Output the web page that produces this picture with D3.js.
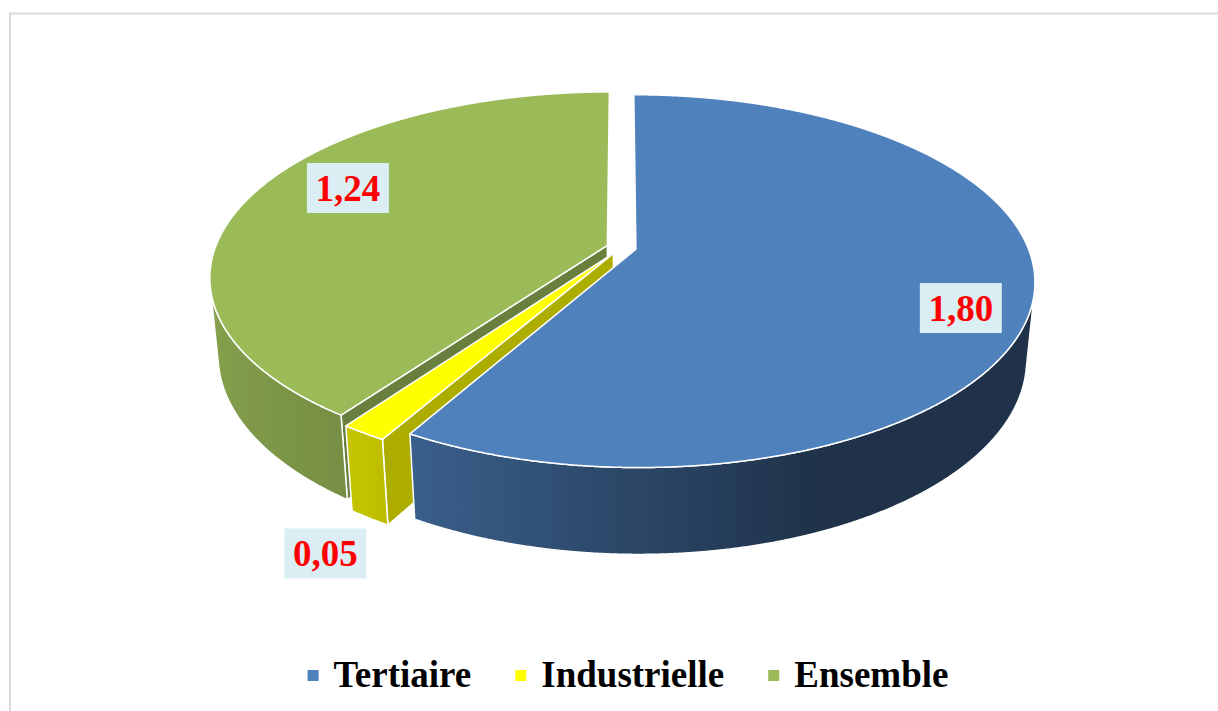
<!DOCTYPE html>
<html><head><meta charset="utf-8">
<script src="https://cdn.jsdelivr.net/npm/d3@7"></script>
<style>body{margin:0;background:#fff}svg{display:block}</style>
</head><body><svg id="chart" width="1218" height="711"></svg>
<script>
// ---- data ----
const categories = ["Tertiaire", "Industrielle", "Ensemble"];
const values = [1.80, 0.05, 1.24];
const valueLabels = ["1,80", "0,05", "1,24"];
const colors = ["#4F81BD", "#FFFF00", "#9BBB59"];

// ---- layout / style ----
const W = 1218, H = 711;
const cx = 621.5, cy = 247.5, F = 2038.5, Dist = 5.2, sinA = 0.46, cosA = 0.888;
const thick = 0.224, explode = 0.038;
const labelPlace = [{a: 111.2, r: 0.878}, {a: 204, r: 1.44}, {a: 295.3, r: 0.818}];
const fontFam = "'Liberation Serif','Times New Roman',serif";

const svg = d3.select("#chart");
const defs = svg.append("defs");

// frame
svg.append("path").attr("d", `M10,${H} V13.5 H${W}`).attr("fill", "none")
  .attr("stroke", "#d9d9d9").attr("stroke-width", 2);

const pieData = d3.pie().sort(null).value(d => d)(values);

function proj(p) {
  const [X, Y, Z] = p;
  const d = Dist - Y * sinA + Z * cosA;
  return [cx + F * X / d, cy - F * (Y * cosA + Z * sinA) / d, d];
}
const cam = [0, Dist * sinA, -Dist * cosA];
const deg = 180 / Math.PI;
const sideShade = d3.scaleLinear().domain([100, 158, 212, 262, 360]).range([0.39, 0.39, 0.76, 0.89, 0.9]).clamp(true);
function shade(hex, f) { const c = d3.rgb(hex); return d3.rgb(c.r * f, c.g * f, c.b * f).formatHex(); }
const line = pts => "M" + pts.map(p => { const q = proj(p); return q[0].toFixed(2) + "," + q[1].toFixed(2); }).join("L") + "Z";
const avgDepth = pts => d3.mean(pts, p => proj(p)[2]);

const faces = [], tops = [];
pieData.forEach((p, i) => {
  const a0 = p.startAngle, a1 = p.endAngle, mid = (a0 + a1) / 2;
  const ox = explode * Math.sin(mid), oz = explode * Math.cos(mid);
  const P = (r, a, Y) => [ox + r * Math.sin(a), Y, oz + r * Math.cos(a)];
  const n = Math.max(4, Math.ceil((a1 - a0) / (0.2 / deg)));
  const arcA = d3.range(n + 1).map(k => a0 + (a1 - a0) * k / n);
  tops.push({pts: [P(0, a0, 0), ...arcA.map(a => P(1, a, 0))], fill: colors[i]});

  // outer side: visible angles
  const visible = a => -1 - ox * Math.sin(a) - oz * Math.cos(a) - Dist * cosA * Math.cos(a) > 0;
  let runs = [], cur = [];
  arcA.forEach(a => { if (visible(a)) cur.push(a); else { if (cur.length > 1) runs.push(cur); cur = []; } });
  if (cur.length > 1) runs.push(cur);
  runs.forEach((run, ri) => {
    const pts = [...run.map(a => P(1, a, 0)), ...run.slice().reverse().map(a => P(1, a, -thick))];
    const gid = `side${i}_${ri}`;
    const xs = run.map(a => proj(P(1, a, 0))[0]);
    const x0 = d3.min(xs), x1 = d3.max(xs);
    const g = defs.append("linearGradient").attr("id", gid).attr("gradientUnits", "userSpaceOnUse")
      .attr("x1", x0).attr("x2", x1).attr("y1", 0).attr("y2", 0);
    const step = Math.max(1, Math.floor(run.length / 60));
    const stops = run.filter((a, k) => k % step === 0 || k === run.length - 1)
      .map(a => ({o: x1 > x0 ? (proj(P(1, a, 0))[0] - x0) / (x1 - x0) : 0, c: shade(colors[i], sideShade(a * deg))}))
      .sort((u, v) => u.o - v.o);
    stops.forEach(s => g.append("stop").attr("offset", s.o).attr("stop-color", s.c));
    faces.push({pts, fill: `url(#${gid})`, depth: avgDepth(pts)});
  });

  // cut faces
  const cuts = [
    {a: a0, nrm: [-Math.cos(a0), 0, Math.sin(a0)]},
    {a: a1, nrm: [Math.cos(a1), 0, -Math.sin(a1)]}
  ];
  cuts.forEach(c => {
    const pts = [P(0, c.a, 0), P(1, c.a, 0), P(1, c.a, -thick), P(0, c.a, -thick)];
    const cen = [d3.mean(pts, q => q[0]), d3.mean(pts, q => q[1]), d3.mean(pts, q => q[2])];
    const dot = c.nrm[0] * (cam[0] - cen[0]) + c.nrm[1] * (cam[1] - cen[1]) + c.nrm[2] * (cam[2] - cen[2]);
    if (dot > 0) faces.push({pts, fill: shade(colors[i], 0.68), depth: avgDepth(pts)});
  });
});

faces.sort((u, v) => v.depth - u.depth);
const gPie = svg.append("g");
gPie.selectAll("path.side").data(faces).join("path").attr("class", "side")
  .attr("d", d => line(d.pts)).attr("fill", d => d.fill)
  .attr("stroke", "#fff").attr("stroke-width", 1.5).attr("stroke-linejoin", "round");
gPie.selectAll("path.top").data(tops).join("path").attr("class", "top")
  .attr("d", d => line(d.pts)).attr("fill", d => d.fill)
  .attr("stroke", "#fff").attr("stroke-width", 1.5).attr("stroke-linejoin", "round");

// data labels
const gLab = svg.append("g");
valueLabels.forEach((t, i) => {
  const lp = labelPlace[i];
  const a = lp.a / deg;
  const q = proj([lp.r * Math.sin(a), 0, lp.r * Math.cos(a)]);
  gLab.append("rect").attr("x", q[0] - 41).attr("y", q[1] - 25).attr("width", 82).attr("height", 50).attr("fill", "#DBEEF4");
  gLab.append("text").attr("x", q[0]).attr("y", q[1] + 12.5).attr("text-anchor", "middle")
    .attr("font-family", fontFam).attr("font-weight", "bold").attr("font-size", 37).attr("fill", "#FF0000").text(t);
});

// legend
const gLeg = svg.append("g");
const items = categories.map((c, i) => {
  const g = gLeg.append("g");
  g.append("rect").attr("x", 0).attr("y", 670).attr("width", 11).attr("height", 11).attr("fill", colors[i]);
  const tx = g.append("text").attr("x", 26).attr("y", 687).attr("font-family", fontFam).attr("font-weight", "bold")
    .attr("font-size", 37).attr("fill", "#000").text(c);
  return {g, w: 26 + tx.node().getComputedTextLength()};
});
const gap = 44;
const total = d3.sum(items, d => d.w) + gap * (items.length - 1);
let x = 628 - total / 2;
items.forEach(it => { it.g.attr("transform", `translate(${x},0)`); x += it.w + gap; });
</script>
</body></html>
